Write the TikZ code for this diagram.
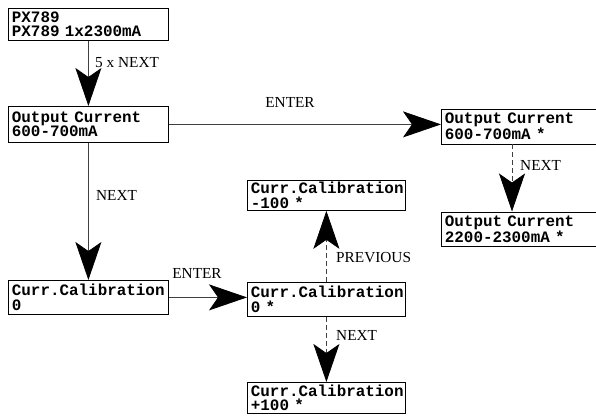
\documentclass[tikz,border=0pt]{standalone}
\usepackage{fontspec}
\setmainfont{Liberation Serif}
\newfontfamily\boxfont[BoldFont={Liberation Mono Bold}]{Liberation Mono}
\usetikzlibrary{arrows.meta}
\begin{document}
\begin{tikzpicture}[x=1pt,y=-1pt,
  lcd/.style={draw=black,line width=0.8pt,anchor=north west,inner xsep=3.5pt,inner ysep=0pt,
    align=left,font=\boxfont\bfseries\fontsize{15.9}{14.5}\selectfont},
  conn/.style={draw=black!75,line width=0.8pt,-{Stealth[length=38pt,width=26pt,inset=9pt,color=black]}},
  dsh/.style={conn,dash pattern=on 5pt off 3pt},
  lbl/.style={font=\fontsize{15.3}{16}\selectfont,inner sep=0pt}]
\useasboundingbox (0,0) rectangle (596,418);
\node[lcd,minimum width=160pt,minimum height=32pt,text width=153pt] (A) at (8,8) {PX789\\PX789 1x2300mA};
\node[lcd,minimum width=160pt,minimum height=36pt,text width=153pt] (B) at (8,106) {Output Current\\600-700mA};
\node[lcd,minimum width=160pt,minimum height=35pt,text width=153pt] (C) at (441,108.5) {Output Current\\600-700mA *};
\node[lcd,minimum width=160pt,minimum height=34pt,text width=153pt] (D) at (441,211.5) {Output Current\\2200-2300mA *};
\node[lcd,minimum width=160pt,minimum height=34pt,text width=153pt] (E) at (8,280) {Curr.Calibration\\0};
\node[lcd,minimum width=158pt,minimum height=34pt,text width=151pt] (F) at (247,282) {Curr.Calibration\\0 *};
\node[lcd,minimum width=158pt,minimum height=30pt,text width=151pt] (G) at (247,180) {Curr.Calibration\\-100 *};
\node[lcd,minimum width=158pt,minimum height=31pt,text width=151pt] (H) at (247,382) {Curr.Calibration\\+100 *};
\draw[conn] (A.south) -- (B.north);
\draw[conn] (B.south) -- (E.north);
\draw[conn] (B.east) -- (B.east -| C.west);
\draw[conn] (E.east) -- (E.east -| F.west);
\draw[dsh] (F.north) -- (G.south);
\draw[dsh] (F.south) -- (H.north);
\coordinate (cs) at ([xshift=71pt]C.south west);
\coordinate (dn) at ([xshift=71pt]D.north west);
\draw[dsh] (cs) -- (dn);
\node[lbl,anchor=west] (l1) at (95,63) {5 x NEXT};
\node[lbl] (l2) at (290,102) {ENTER};
\node[lbl,anchor=west] (l3) at (96,195) {NEXT};
\node[lbl] (l4) at (197,273) {ENTER};
\node[lbl,anchor=west] (l5) at (336,258) {PREVIOUS};
\node[lbl,anchor=west] (l6) at (336,335) {NEXT};
\node[lbl,anchor=west] (l7) at (520,165) {NEXT};
\end{tikzpicture}
\end{document}
